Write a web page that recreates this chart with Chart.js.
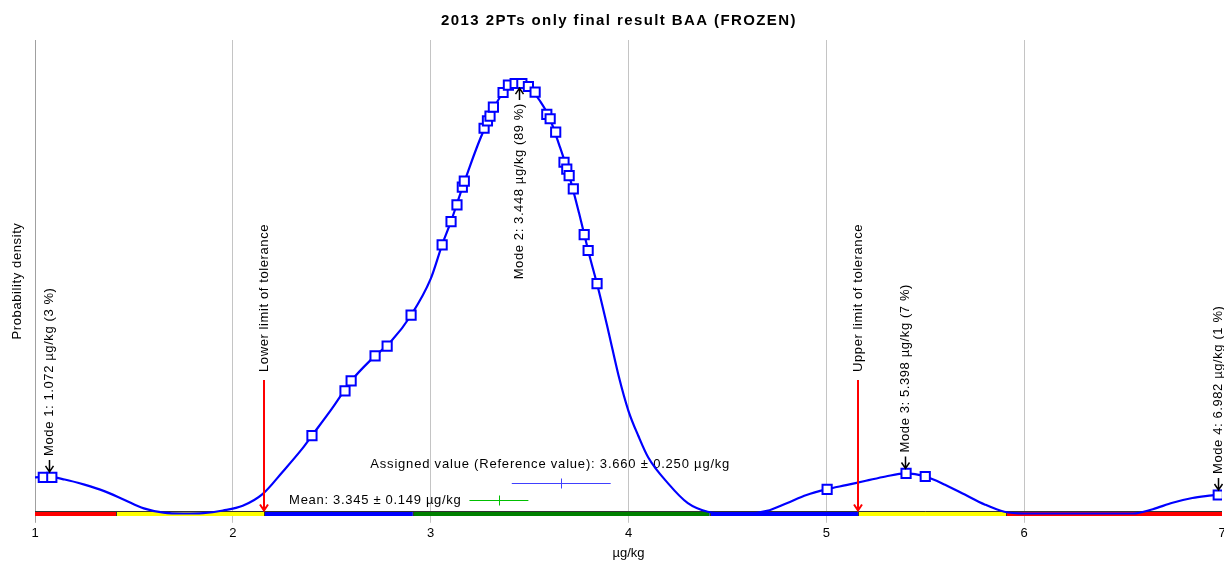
<!DOCTYPE html>
<html lang="en">
<head>
    <meta charset="UTF-8">
    <title>2013 2PTs only final result BAA (FROZEN)</title>
    <script src="https://cdn.jsdelivr.net/npm/chart.js@4/dist/chart.umd.min.js"></script>
    <style>
        body { margin: 0; background: #fff; }
        .chart-box { width: 1224px; height: 562px; }
    </style>
</head>
<body>
    <div class="chart-box"><canvas id="densityChart"></canvas></div>

    <script>
        // Kernel density curve (µg/kg, relative density)
        const curveX = [1.00, 1.07, 1.15, 1.25, 1.35, 1.45, 1.55, 1.65, 1.75, 1.85, 1.95, 2.05, 2.15, 2.25, 2.35, 2.40, 2.50, 2.60, 2.70, 2.80, 2.90, 3.00, 3.06, 3.10, 3.15, 3.20, 3.25, 3.30, 3.35, 3.40, 3.45, 3.50, 3.55, 3.60, 3.65, 3.70, 3.75, 3.80, 3.85, 3.90, 3.95, 4.00, 4.05, 4.10, 4.20, 4.30, 4.40, 4.50, 4.60, 4.70, 4.80, 4.90, 5.00, 5.10, 5.20, 5.30, 5.40, 5.50, 5.60, 5.70, 5.80, 5.90, 6.00, 6.55, 6.65, 6.75, 6.85, 6.95, 7.00];
        const curveY = [0.084, 0.085, 0.079, 0.067, 0.052, 0.032, 0.012, 0.002, 0.000, 0.001, 0.007, 0.018, 0.045, 0.096, 0.150, 0.181, 0.243, 0.309, 0.358, 0.400, 0.460, 0.545, 0.627, 0.675, 0.743, 0.809, 0.870, 0.923, 0.967, 0.994, 1.000, 0.990, 0.960, 0.920, 0.856, 0.785, 0.698, 0.604, 0.517, 0.420, 0.320, 0.238, 0.180, 0.130, 0.070, 0.024, 0.004, 0.000, 0.000, 0.006, 0.024, 0.043, 0.056, 0.066, 0.076, 0.086, 0.093, 0.086, 0.067, 0.044, 0.021, 0.004, 0.000, 0.000, 0.010, 0.025, 0.036, 0.042, 0.045];

        // Participant results (squares on the curve)
        const resultX = [1.042, 1.085, 2.400, 2.567, 2.598, 2.719, 2.780, 2.901, 3.058, 3.103, 3.133, 3.160, 3.170, 3.270, 3.287, 3.300, 3.317, 3.366, 3.393, 3.427, 3.461, 3.494, 3.528, 3.587, 3.604, 3.632, 3.674, 3.688, 3.700, 3.721, 3.776, 3.796, 3.841, 5.004, 5.403, 5.500, 6.981];
        const resultY = [0.084, 0.084, 0.181, 0.285, 0.308, 0.366, 0.389, 0.461, 0.624, 0.678, 0.717, 0.758, 0.772, 0.895, 0.912, 0.923, 0.944, 0.978, 0.995, 0.999, 0.999, 0.992, 0.979, 0.927, 0.917, 0.886, 0.816, 0.800, 0.785, 0.754, 0.648, 0.611, 0.534, 0.056, 0.093, 0.086, 0.043];

        // Modes
        const modeX = [1.072, 3.448, 5.398, 6.982];
        const modeY = [0.085, 1.000, 0.093, 0.043];
        const modeLabels = ['Mode 1: 1.072 µg/kg (3 %)', 'Mode 2: 3.448 µg/kg (89 %)', 'Mode 3: 5.398 µg/kg (7 %)', 'Mode 4: 6.982 µg/kg (1 %)'];
        const modeBelow = [false, true, false, false];

        // Tolerance limits
        const toleranceX = [2.16, 5.16];
        const toleranceLabels = ['Lower limit of tolerance', 'Upper limit of tolerance'];

        // z-score colour band
        const bandEdges = [1, 1.41, 2.16, 2.91, 4.41, 5.16, 5.91, 7];
        const bandColors = ['#ff0000', '#ffff00', '#0000ff', '#008000', '#0000ff', '#ffff00', '#ff0000'];

        // Assigned value and mean
        const assigned = 3.660, assignedU = 0.250;
        const mean = 3.345, meanU = 0.149;

        const xTicks = [1, 2, 3, 4, 5, 6, 7];

        const FONT = '"Liberation Sans", Arial, sans-serif';

        function vText(ctx, text, x, y, align) {
            ctx.save();
            ctx.translate(x, y);
            ctx.rotate(-Math.PI / 2);
            ctx.textAlign = align;
            ctx.textBaseline = 'middle';
            ctx.fillText(text, 0, 0);
            ctx.restore();
        }

        function arrow(ctx, x, tail, tip, color) {
            const dir = tip > tail ? 1 : -1;
            ctx.strokeStyle = color;
            ctx.beginPath();
            ctx.moveTo(x, tail);
            ctx.lineTo(x, tip);
            ctx.moveTo(x - 4, tip - dir * 6);
            ctx.lineTo(x, tip);
            ctx.lineTo(x + 4, tip - dir * 6);
            ctx.stroke();
        }

        const annotations = {
            id: 'annotations',
            beforeDatasetsDraw(chart) {
                const ctx = chart.ctx;
                const xs = chart.scales.x, ys = chart.scales.y;
                const y0 = ys.getPixelForValue(0);

                // colour band along the axis
                ctx.save();
                for (let i = 0; i < bandColors.length; i++) {
                    const a = xs.getPixelForValue(bandEdges[i]);
                    const b = xs.getPixelForValue(bandEdges[i + 1]);
                    ctx.fillStyle = bandColors[i];
                    ctx.fillRect(a, y0 - 2.5, b - a, 5);
                }
                ctx.strokeStyle = '#333';
                ctx.lineWidth = 1;
                ctx.beginPath();
                ctx.moveTo(chart.chartArea.left, Math.round(y0 - 2.5) + 0.5);
                ctx.lineTo(chart.chartArea.right, Math.round(y0 - 2.5) + 0.5);
                for (let i = 1; i < bandEdges.length - 1; i++) {
                    const a = Math.round(xs.getPixelForValue(bandEdges[i])) + 0.5;
                    ctx.moveTo(a, y0 - 2.5);
                    ctx.lineTo(a, y0 + 2.5);
                }
                ctx.stroke();

                // assigned value and mean with uncertainty
                ctx.font = '13px ' + FONT;
                ctx.letterSpacing = '0.8px';
                ctx.fillStyle = '#000';
                ctx.textBaseline = 'middle';

                const ay = Math.round(y0 - 30) + 0.5;
                ctx.textAlign = 'center';
                ctx.fillText('Assigned value (Reference value): ' + assigned.toFixed(3) + ' ± ' + assignedU.toFixed(3) + ' µg/kg', xs.getPixelForValue(assigned) - 11, y0 - 49);
                ctx.strokeStyle = '#4040ff';
                ctx.beginPath();
                ctx.moveTo(xs.getPixelForValue(assigned - assignedU), ay);
                ctx.lineTo(xs.getPixelForValue(assigned + assignedU), ay);
                ctx.moveTo(Math.round(xs.getPixelForValue(assigned)) + 0.5, ay - 5);
                ctx.lineTo(Math.round(xs.getPixelForValue(assigned)) + 0.5, ay + 5);
                ctx.stroke();

                const my = Math.round(y0 - 13) + 0.5;
                ctx.textAlign = 'right';
                ctx.letterSpacing = '0.7px';
                ctx.fillText('Mean: ' + mean.toFixed(3) + ' ± ' + meanU.toFixed(3) + ' µg/kg', xs.getPixelForValue(mean - meanU) - 8, my);
                ctx.strokeStyle = '#00c000';
                ctx.beginPath();
                ctx.moveTo(xs.getPixelForValue(mean - meanU), my);
                ctx.lineTo(xs.getPixelForValue(mean + meanU), my);
                ctx.moveTo(Math.round(xs.getPixelForValue(mean)) + 0.5, my - 5);
                ctx.lineTo(Math.round(xs.getPixelForValue(mean)) + 0.5, my + 5);
                ctx.stroke();
                ctx.restore();
            },
            afterDatasetsDraw(chart) {
                const ctx = chart.ctx;
                const xs = chart.scales.x, ys = chart.scales.y;
                const y0 = ys.getPixelForValue(0);

                ctx.save();
                ctx.font = '13px ' + FONT;
                ctx.letterSpacing = '0.6px';
                ctx.fillStyle = '#000';

                // tolerance limits
                toleranceX.forEach((v, i) => {
                    const x = Math.round(xs.getPixelForValue(v));
                    ctx.lineWidth = 2;
                    arrow(ctx, x, 380, y0 - 3, '#ff0000');
                    vText(ctx, toleranceLabels[i], x, 372, 'left');
                });

                // modes
                modeX.forEach((v, i) => {
                    const x = Math.round(xs.getPixelForValue(v)) + 0.5;
                    const py = ys.getPixelForValue(modeY[i]);
                    ctx.lineWidth = 1.5;
                    if (modeBelow[i]) {
                        arrow(ctx, x, py + 17, py + 5, '#000');
                        vText(ctx, modeLabels[i], x, py + 20, 'right');
                    } else {
                        arrow(ctx, x, py - 17, py - 5, '#000');
                        vText(ctx, modeLabels[i], x, py - 21, 'left');
                    }
                });

                // y axis title and chart title
                vText(ctx, 'Probability density', 17, 281, 'center');
                ctx.font = 'bold 15px ' + FONT;
                ctx.letterSpacing = '1.4px';
                ctx.textAlign = 'center';
                ctx.textBaseline = 'middle';
                ctx.fillText('2013 2PTs only final result BAA (FROZEN)', 619, 21);
                ctx.restore();
            }
        };

        document.addEventListener('DOMContentLoaded', function() {
            const ctx = document.getElementById('densityChart').getContext('2d');

            new Chart(ctx, {
                type: 'line',
                data: {
                    datasets: [{
                        label: 'Results',
                        data: resultX.map((x, i) => ({ x: x, y: resultY[i] })),
                        showLine: false,
                        pointStyle: 'rect',
                        pointRadius: 6.5,
                        pointBorderWidth: 2,
                        pointBorderColor: '#0000ff',
                        pointBackgroundColor: '#ffffff'
                    }, {
                        label: 'Density',
                        data: curveX.map((x, i) => ({ x: x, y: curveY[i] })),
                        borderColor: '#0000ff',
                        borderWidth: 2.2,
                        pointRadius: 0,
                        cubicInterpolationMode: 'monotone',
                        fill: false
                    }]
                },
                options: {
                    responsive: true,
                    maintainAspectRatio: false,
                    animation: false,
                    layout: { autoPadding: false, padding: { left: 35, right: 2, top: 40, bottom: 1 } },
                    plugins: {
                        legend: { display: false },
                        tooltip: { enabled: false }
                    },
                    scales: {
                        x: {
                            type: 'linear',
                            min: 1,
                            max: 7,
                            afterBuildTicks: axis => { axis.ticks = xTicks.map(v => ({ value: v })); },
                            afterFit: axis => { axis.paddingLeft = 0; axis.paddingRight = 0; },
                            ticks: {
                                color: '#000',
                                padding: 3,
                                font: { family: FONT, size: 13 }
                            },
                            grid: {
                                color: c => {
                                    if (!c.tick) return '#c4c4c4';
                                    if (c.tick.value === 7) return 'rgba(0,0,0,0)';
                                    return c.tick.value === 1 ? '#a0a0a0' : '#c4c4c4';
                                },
                                tickLength: 5
                            },
                            border: { display: false },
                            title: {
                                display: true,
                                text: 'µg/kg',
                                color: '#000',
                                font: { family: FONT, size: 13 },
                                padding: { top: 1, bottom: 0 }
                            }
                        },
                        y: {
                            display: false,
                            min: -0.01,
                            max: 1.1
                        }
                    }
                },
                plugins: [annotations]
            });
        });
    </script>
</body>
</html>
